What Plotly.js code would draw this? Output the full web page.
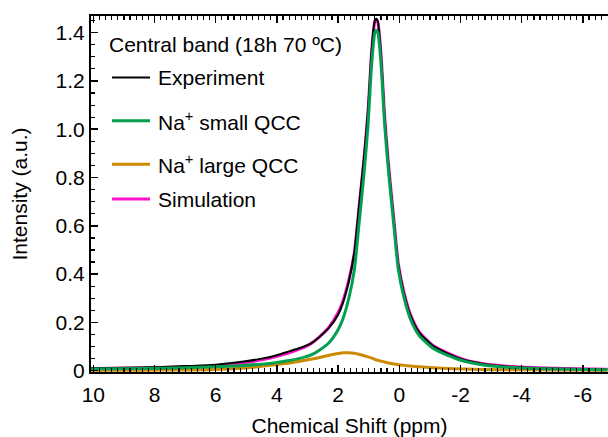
<!DOCTYPE html>
<html><head><meta charset="utf-8">
<script src="https://cdn.plot.ly/plotly-3.0.1.min.js"></script>
<style>html,body{margin:0;padding:0;background:#fff}#chart{width:608px;height:437px}</style>
</head><body><div id="chart"></div>
<script>
// Chemical shift (ppm)
const shift = [10.1, 8.5, 7, 6, 5.2, 4.5, 4, 3.6, 3.25, 2.9, 2.6, 2.3, 2.0, 1.85, 1.65, 1.47, 1.32, 1.15, 1.02, 0.92, 0.85, 0.80, 0.75, 0.70, 0.65, 0.58, 0.48, 0.35, 0.18, 0.03, -0.15, -0.37, -0.65, -1.1, -1.43, -2.1, -2.75, -3.7, -5, -6.8];
const experiment = [0.010, 0.013, 0.019, 0.025, 0.036, 0.050, 0.064, 0.080, 0.094, 0.112, 0.141, 0.177, 0.232, 0.278, 0.370, 0.490, 0.675, 0.890, 1.085, 1.300, 1.405, 1.450, 1.458, 1.445, 1.390, 1.275, 1.050, 0.845, 0.625, 0.438, 0.322, 0.228, 0.158, 0.103, 0.080, 0.045, 0.028, 0.016, 0.009, 0.006];
const smallQCC = [0.007, 0.009, 0.012, 0.016, 0.021, 0.027, 0.034, 0.042, 0.051, 0.064, 0.086, 0.116, 0.170, 0.212, 0.300, 0.417, 0.603, 0.820, 1.020, 1.240, 1.350, 1.400, 1.410, 1.400, 1.350, 1.240, 1.020, 0.820, 0.603, 0.417, 0.305, 0.212, 0.145, 0.093, 0.072, 0.040, 0.024, 0.013, 0.007, 0.004];
const largeQCC = [0.002, 0.002, 0.003, 0.005, 0.010, 0.018, 0.026, 0.032, 0.039, 0.047, 0.055, 0.064, 0.071, 0.074, 0.0745, 0.072, 0.068, 0.062, 0.057, 0.053, 0.050, 0.047, 0.045, 0.043, 0.041, 0.039, 0.036, 0.032, 0.028, 0.025, 0.022, 0.019, 0.016, 0.012, 0.010, 0.007, 0.005, 0.004, 0.003, 0.002];
const simulation = [0.009, 0.011, 0.015, 0.021, 0.031, 0.045, 0.060, 0.074, 0.090, 0.111, 0.141, 0.180, 0.241, 0.286, 0.375, 0.489, 0.671, 0.882, 1.077, 1.293, 1.400, 1.447, 1.455, 1.443, 1.391, 1.279, 1.056, 0.852, 0.631, 0.442, 0.327, 0.231, 0.161, 0.105, 0.082, 0.047, 0.029, 0.017, 0.010, 0.006];

const seriesNames = ['Experiment', 'Na<sup>+</sup> small QCC', 'Na<sup>+</sup> large QCC', 'Simulation'];
const legendTitle = 'Central band (18h 70 ºC)';
const xTitle = 'Chemical Shift (ppm)';
const yTitle = 'Intensity (a.u.)';
const xTickVals = [10, 8, 6, 4, 2, 0, -2, -4, -6];
const xTickText = ['10', '8', '6', '4', '2', '0', '-2', '-4', '-6'];
const yTickVals = [0, 0.2, 0.4, 0.6, 0.8, 1.0, 1.2, 1.4];
const yTickText = ['0', '0.2', '0.4', '0.6', '0.8', '1.0', '1.2', '1.4'];

const colors = {exp: '#000000', small: '#00a050', large: '#cc8a00', sim: '#ff10cc'};
const FONT = 'Liberation Sans, Arial, sans-serif';
const FS = 21;

const W = 608, H = 437;
const M = {l: 91, r: 0, t: 16, b: 65};
const PW = W - M.l - M.r, PH = H - M.t - M.b;
const px = x => (x - M.l) / PW;
const py = y => (H - M.b - y) / PH;

function tr(y, name, color, width) {
  return {x: shift, y: y, name: name, type: 'scatter', mode: 'lines',
    line: {color: color, width: width, shape: 'spline', smoothing: 0.6},
    showlegend: false, hoverinfo: 'skip'};
}
const traces = [
  tr(simulation, seriesNames[3], colors.sim, 3),
  tr(experiment, seriesNames[0], colors.exp, 2),
  tr(largeQCC, seriesNames[2], colors.large, 3),
  tr(smallQCC, seriesNames[1], colors.small, 3)
];

// manual legend
const legendRows = [
  {name: seriesNames[0], color: colors.exp, w: 2, y: 77.5},
  {name: seriesNames[1], color: colors.small, w: 3, y: 120.7},
  {name: seriesNames[2], color: colors.large, w: 3, y: 164.3},
  {name: seriesNames[3], color: colors.sim, w: 3, y: 199}
];
const shapes = legendRows.map(r => ({type: 'line', xref: 'paper', yref: 'paper',
  x0: px(112), x1: px(150), y0: py(r.y), y1: py(r.y), line: {color: r.color, width: r.w}}));
const annotations = legendRows.map(r => ({xref: 'paper', yref: 'paper', x: px(156), y: py(r.y),
  xanchor: 'left', yanchor: 'middle', text: r.name, showarrow: false, font: {family: FONT, size: FS, color: '#000'}}));
annotations.push({xref: 'paper', yref: 'paper', x: px(107), y: py(44.5), xanchor: 'left', yanchor: 'middle',
  text: legendTitle, showarrow: false, font: {family: FONT, size: FS, color: '#000'}});

const axisCommon = {
  showline: true, linecolor: '#000', linewidth: 2, showgrid: false, zeroline: false,
  ticks: 'inside', ticklen: 7, tickwidth: 1.5, tickcolor: '#000',
  tickfont: {family: FONT, size: FS, color: '#000'}
};

const layout = {
  width: W, height: H, margin: M, paper_bgcolor: '#fff', plot_bgcolor: '#fff',
  font: {family: FONT, size: FS, color: '#000'},
  xaxis: Object.assign({}, axisCommon, {
    mirror: 'allticks', ticklabelstandoff: 3,
    range: [10.075, -6.82], tickmode: 'array', tickvals: xTickVals, ticktext: xTickText,
    minor: {dtick: 0.2, ticks: 'inside', ticklen: 4, tickwidth: 1.2, tickcolor: '#000', showgrid: false},
    title: {text: xTitle, font: {family: FONT, size: FS, color: '#000'}, standoff: 17}
  }),
  yaxis: Object.assign({}, axisCommon, {
    mirror: false,
    range: [-0.0054, 1.469], tickmode: 'array', tickvals: yTickVals, ticktext: yTickText,
    minor: {dtick: 0.05, ticks: 'inside', ticklen: 4, tickwidth: 1.2, tickcolor: '#000', showgrid: false},
    title: {text: yTitle, font: {family: FONT, size: FS, color: '#000'}, standoff: 22}
  }),
  shapes: shapes, annotations: annotations, showlegend: false
};

Plotly.newPlot('chart', traces, layout, {displayModeBar: false, staticPlot: true});
</script></body></html>
